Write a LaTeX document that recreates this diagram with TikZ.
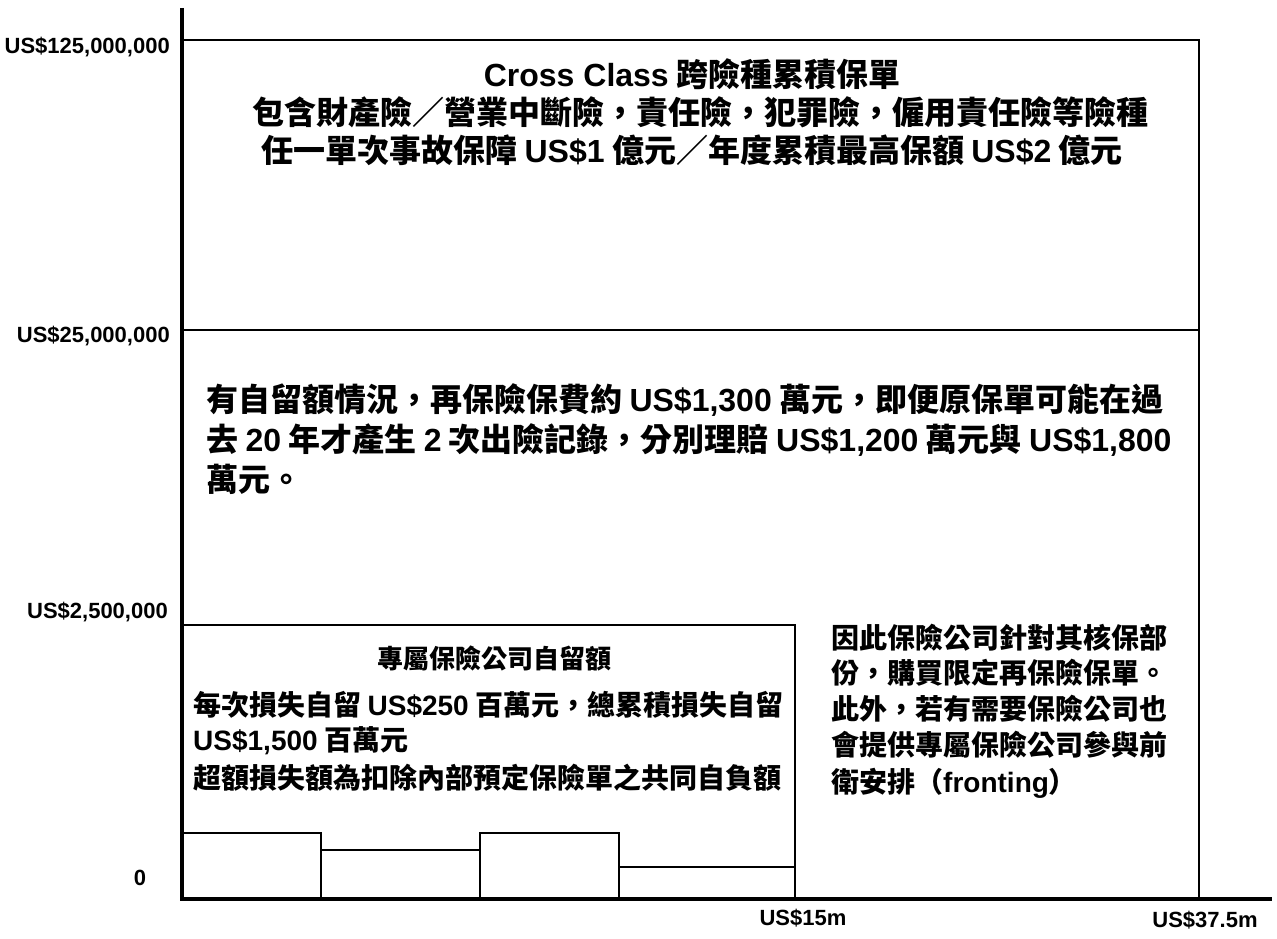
\documentclass[tikz,border=0pt]{standalone}
\usepackage{fontspec}
\setmainfont{Liberation Sans}
\newfontfamily\cjk{Noto Sans CJK TC}
\newfontfamily\latf{Liberation Sans}
\newcommand{\lt}[1]{{\latf\bfseries #1}}
\begin{document}
\begin{tikzpicture}[x=1pt,y=-1pt,
  axisline/.style={line width=4pt},
  boxline/.style={line width=2.4pt},
  barline/.style={line width=2pt},
  ylab/.style={anchor=east,inner sep=0pt,font=\latf\bfseries\fontsize{22}{22}\selectfont},
  xlab/.style={anchor=center,inner sep=0pt,font=\latf\bfseries\fontsize{22}{22}\selectfont},
  bigtxt/.style={anchor=base,inner sep=0pt,font=\cjk\bfseries\fontsize{32}{32}\selectfont},
  midtxt/.style={anchor=base west,inner sep=0pt,font=\cjk\bfseries\fontsize{32}{32}\selectfont},
  lowtxt/.style={anchor=base west,inner sep=0pt,font=\cjk\bfseries\fontsize{28}{28}\selectfont},
  rtxt/.style={anchor=base west,inner sep=0pt,font=\cjk\bfseries\fontsize{28}{28}\selectfont}]
\useasboundingbox (0,0) rectangle (1277,939);
% boxes
\draw[boxline] (182,40) -- (1199,40) -- (1199,899);
\draw[boxline] (182,330) -- (1199,330);
\draw[boxline] (182,625) -- (795,625) -- (795,899);
% loss bars
\draw[barline] (182,833) -- (321,833) -- (321,899);
\draw[barline] (321,850) -- (480,850);
\draw[barline] (480,899) -- (480,833) -- (619,833) -- (619,899);
\draw[barline] (619,867) -- (795,867);
% axes
\draw[axisline] (182,8) -- (182,901);
\draw[axisline] (180,899) -- (1272,899);
% axis labels
\node[ylab] (y1) at (170,47) {US\$125,000,000};
\node[ylab] (y2) at (170,336) {US\$25,000,000};
\node[ylab] (y3) at (168,612) {US\$2,500,000};
\node[xlab] (y0) at (140,878) {0};
\node[xlab] (x1) at (803,918) {US\$15m};
\node[xlab] (x2) at (1205,920) {US\$37.5m};
% top block
\node[bigtxt] (t1) at (692,87) {\lt{Cross Class} 跨險種累積保單};
\node[bigtxt] (t2) at (700,125) {包含財產險／營業中斷險，責任險，犯罪險，僱用責任險等險種};
\node[bigtxt] (t3) at (692,162) {任一單次事故保障 \lt{US\$1} 億元／年度累積最高保額 \lt{US\$2} 億元};
% middle block
\node[midtxt] (m1) at (206,411) {有自留額情況，再保險保費約 \lt{US\$1,300} 萬元，即便原保單可能在過};
\node[midtxt] (m2) at (206,451) {去 \lt{20} 年才產生 \lt{2} 次出險記錄，分別理賠 \lt{US\$1,200} 萬元與 \lt{US\$1,800}};
\node[midtxt] (m3) at (206,491) {萬元。};
% lower-left block
\node[anchor=base,inner sep=0pt,font=\cjk\bfseries\fontsize{26}{26}\selectfont] (l0) at (494,668) {專屬保險公司自留額};
\node[lowtxt] (l1) at (193,715) {每次損失自留 \lt{US\$250} 百萬元，總累積損失自留};
\node[lowtxt] (l2) at (193,750) {\lt{US\$1,500} 百萬元};
\node[lowtxt] (l3) at (193,788) {超額損失額為扣除內部預定保險單之共同自負額};
% right block
\node[rtxt] (r1) at (831,648) {因此保險公司針對其核保部};
\node[rtxt] (r2) at (831,683) {份，購買限定再保險保單。};
\node[rtxt] (r3) at (831,719) {此外，若有需要保險公司也};
\node[rtxt] (r4) at (831,755) {會提供專屬保險公司參與前};
\node[rtxt] (r5) at (831,792) {衛安排（\lt{fronting}）};
\end{tikzpicture}
\end{document}
